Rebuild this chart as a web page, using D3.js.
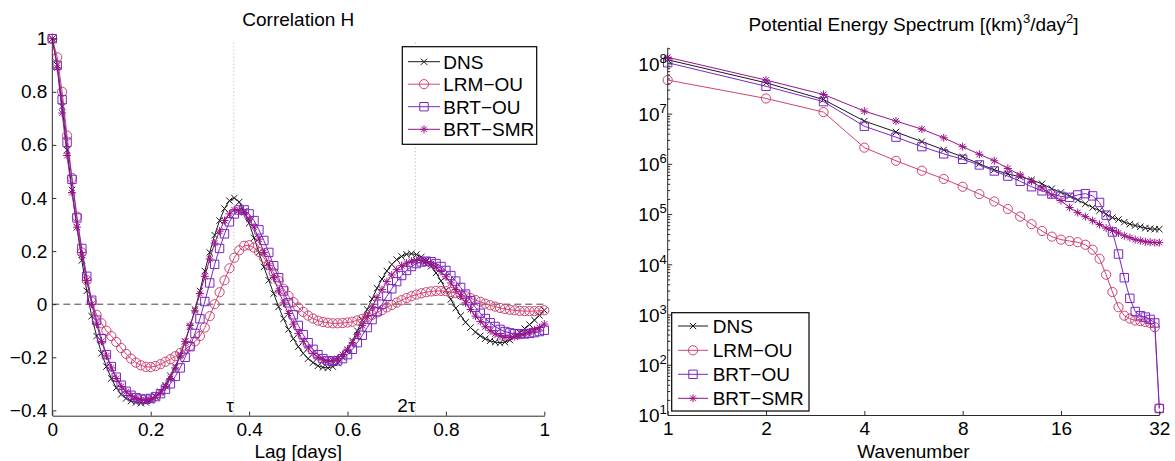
<!DOCTYPE html>
<html><head><meta charset="utf-8">
<script src="https://cdn.jsdelivr.net/npm/d3@7"></script>
<style>
html,body{margin:0;padding:0;background:#fff;}
svg text{font-family:"Liberation Sans",Arial,Helvetica,sans-serif;fill:#000;}
</style></head>
<body>
<svg id="chart" width="1175" height="461"></svg>
<script>
// ---------- DATA ----------
const seriesNames = ["DNS", "LRM\u2212OU", "BRT\u2212OU", "BRT\u2212SMR"];
const lags = [0,0.01,0.02,0.03,0.04,0.05,0.06,0.07,0.08,0.09,0.1,0.11,0.12,0.13,0.14,0.15,0.16,0.17,0.18,0.19,0.2,0.21,0.22,0.23,0.24,0.25,0.26,0.27,0.28,0.29,0.3,0.31,0.32,0.33,0.34,0.35,0.36,0.37,0.38,0.39,0.4,0.41,0.42,0.43,0.44,0.45,0.46,0.47,0.48,0.49,0.5,0.51,0.52,0.53,0.54,0.55,0.56,0.57,0.58,0.59,0.6,0.61,0.62,0.63,0.64,0.65,0.66,0.67,0.68,0.69,0.7,0.71,0.72,0.73,0.74,0.75,0.76,0.77,0.78,0.79,0.8,0.81,0.82,0.83,0.84,0.85,0.86,0.87,0.88,0.89,0.9,0.91,0.92,0.93,0.94,0.95,0.96,0.97,0.98,0.99,1];
const corrDNS = [1,0.9,0.745,0.58,0.43,0.29,0.165,0.05,-0.045,-0.12,-0.185,-0.235,-0.28,-0.315,-0.34,-0.355,-0.365,-0.37,-0.373,-0.37,-0.362,-0.348,-0.33,-0.305,-0.27,-0.235,-0.19,-0.14,-0.085,-0.02,0.05,0.125,0.195,0.26,0.315,0.36,0.39,0.4,0.385,0.35,0.305,0.25,0.195,0.14,0.09,0.04,-0.01,-0.055,-0.095,-0.13,-0.16,-0.185,-0.205,-0.22,-0.232,-0.238,-0.24,-0.235,-0.222,-0.2,-0.172,-0.138,-0.1,-0.06,-0.02,0.02,0.06,0.095,0.125,0.15,0.168,0.18,0.188,0.19,0.187,0.178,0.163,0.143,0.118,0.088,0.053,0.018,-0.015,-0.043,-0.068,-0.088,-0.105,-0.119,-0.13,-0.138,-0.143,-0.145,-0.143,-0.135,-0.122,-0.107,-0.092,-0.077,-0.06,-0.042,-0.023];
const corrLRM = [1,0.93,0.8,0.635,0.475,0.33,0.195,0.09,0.01,-0.04,-0.072,-0.1,-0.12,-0.142,-0.165,-0.187,-0.205,-0.22,-0.23,-0.236,-0.237,-0.233,-0.226,-0.217,-0.207,-0.196,-0.184,-0.171,-0.157,-0.14,-0.12,-0.088,-0.045,0,0.045,0.09,0.135,0.175,0.203,0.22,0.222,0.213,0.197,0.175,0.148,0.118,0.088,0.058,0.031,0.008,-0.012,-0.029,-0.043,-0.054,-0.062,-0.067,-0.07,-0.072,-0.072,-0.071,-0.069,-0.066,-0.061,-0.055,-0.048,-0.04,-0.031,-0.022,-0.012,-0.003,0.006,0.015,0.023,0.03,0.036,0.041,0.045,0.048,0.05,0.05,0.049,0.046,0.042,0.036,0.03,0.023,0.016,0.009,0.002,-0.004,-0.009,-0.014,-0.018,-0.021,-0.023,-0.025,-0.026,-0.026,-0.026,-0.025,-0.023];
const corrBRTOU = [1,0.9,0.77,0.61,0.47,0.325,0.21,0.105,0.015,-0.06,-0.13,-0.19,-0.235,-0.275,-0.305,-0.328,-0.343,-0.352,-0.357,-0.358,-0.355,-0.348,-0.337,-0.32,-0.3,-0.272,-0.24,-0.2,-0.16,-0.11,-0.055,0.01,0.08,0.15,0.21,0.265,0.31,0.34,0.355,0.355,0.34,0.315,0.28,0.24,0.195,0.145,0.1,0.05,0.005,-0.04,-0.08,-0.115,-0.145,-0.17,-0.19,-0.205,-0.213,-0.215,-0.213,-0.205,-0.19,-0.17,-0.145,-0.117,-0.088,-0.058,-0.028,0,0.03,0.058,0.085,0.108,0.127,0.142,0.153,0.159,0.162,0.16,0.153,0.142,0.127,0.108,0.087,0.063,0.038,0.013,-0.012,-0.034,-0.054,-0.07,-0.084,-0.095,-0.103,-0.108,-0.111,-0.112,-0.112,-0.11,-0.107,-0.103,-0.098];
const corrBRTSMR = [1,0.89,0.72,0.56,0.42,0.29,0.185,0.09,0,-0.075,-0.14,-0.195,-0.24,-0.28,-0.31,-0.33,-0.345,-0.355,-0.36,-0.362,-0.358,-0.35,-0.335,-0.31,-0.28,-0.24,-0.195,-0.14,-0.08,-0.025,0.04,0.105,0.17,0.23,0.275,0.315,0.34,0.355,0.355,0.345,0.32,0.29,0.245,0.195,0.145,0.1,0.05,0.005,-0.035,-0.075,-0.11,-0.14,-0.165,-0.185,-0.2,-0.21,-0.215,-0.213,-0.205,-0.19,-0.17,-0.145,-0.115,-0.08,-0.045,-0.01,0.025,0.055,0.085,0.11,0.13,0.145,0.155,0.162,0.165,0.165,0.16,0.152,0.14,0.123,0.103,0.08,0.055,0.03,0.005,-0.02,-0.045,-0.065,-0.085,-0.1,-0.112,-0.12,-0.125,-0.125,-0.122,-0.117,-0.112,-0.105,-0.097,-0.088,-0.075];

const wavenumbers = [1,2,3,4,5,6,7,8,9,10,11,12,13,14,15,16,17,18,19,20,21,22,23,24,25,26,27,28,29,30,31,32];
const peDNS = [1.18e8,4.1e7,1.9e7,7.1e6,4.3e6,2.77e6,1.9e6,1.38e6,1.0e6,7.6e5,6.3e5,5.5e5,4.8e5,4.0e5,3.2e5,2.7e5,2.3e5,1.9e5,1.6e5,1.35e5,1.17e5,1.0e5,8.5e4,7.8e4,6.9e4,6.3e4,5.9e4,5.6e4,5.25e4,5.1e4,5.0e4,5.0e4];
const peLRM = [4.65e7,2.0e7,1.07e7,2.1e6,1.15e6,7.3e5,5.0e5,3.5e5,2.5e5,1.78e5,1.26e5,8.9e4,6.3e4,4.6e4,3.55e4,3.1e4,2.9e4,2.75e4,2.45e4,1.95e4,1.29e4,6.2e3,2.8e3,1.4e3,950,830,760,740,710,680,560,13.5];
const peBRTOU = [1.03e8,3.5e7,1.73e7,5.6e6,3.4e6,2.2e6,1.58e6,1.23e6,9.5e5,7.2e5,5.7e5,4.5e5,3.5e5,2.9e5,2.5e5,2.25e5,2.15e5,2.4e5,2.55e5,2.3e5,1.7e5,9.5e4,4.4e4,1.6e4,5.4e3,2.1e3,1.15e3,950,890,800,680,13.5];
const peBRTSMR = [1.32e8,4.65e7,2.4e7,1.12e7,7.1e6,4.9e6,3.3e6,2.2e6,1.55e6,1.15e6,8.1e5,6.0e5,4.5e5,3.3e5,2.4e5,1.86e5,1.35e5,1.07e5,8.9e4,7.4e4,6.2e4,5.25e4,4.7e4,4.2e4,3.7e4,3.4e4,3.1e4,2.95e4,2.8e4,2.75e4,2.7e4,2.7e4];

const corrTicksX = [0,0.2,0.4,0.6,0.8,1];
const corrTicksY = [-0.4,-0.2,0,0.2,0.4,0.6,0.8,1];
const tau = 0.369;
const tauMarks = [{v: tau, label: "\u03c4"}, {v: 2*tau, label: "2\u03c4"}];
const peTicksX = [1,2,4,8,16,32];
const peTicksYExp = [1,2,3,4,5,6,7,8];

// ---------- STYLE ----------
const colors = ["#1a1a1a", "#cf4470", "#7a26c1", "#9a1388"];
const markers = ["x", "circle", "square", "star"];
const FONT = 19;

const svg = d3.select("#chart");
svg.append("rect").attr("width",1175).attr("height",461).attr("fill","#fff");

function markerPath(type){
  if(type==="x"){const s=3.2;return `M${-s},${-s}L${s},${s}M${-s},${s}L${s},${-s}`;}
  if(type==="square"){const s=4.2;return `M${-s},${-s}H${s}V${s}H${-s}Z`;}
  if(type==="star"){const s=4,d=2.9;return `M${-s},0H${s}M0,${-s}V${s}M${-d},${-d}L${d},${d}M${-d},${d}L${d},${-d}`;}
  return null;
}
function drawMarker(g, type, x, y, color){
  if(type==="circle"){
    g.append("circle").attr("cx",x).attr("cy",y).attr("r",4.6).attr("fill","none").attr("stroke",color).attr("stroke-width",1);
  } else {
    g.append("path").attr("transform",`translate(${x},${y})`).attr("d",markerPath(type)).attr("fill","none").attr("stroke",color).attr("stroke-width",1);
  }
}
function styleAxis(g){
  g.selectAll(".domain").attr("stroke","#2b2b2b").attr("stroke-width",1);
  g.selectAll(".tick line").attr("stroke","#2b2b2b");
  g.selectAll("text").attr("font-size",FONT).attr("fill","#000").attr("font-family",'"Liberation Sans",Arial,sans-serif');
}

// ---------- LEFT: Correlation H ----------
const xL = d3.scaleLinear().domain([0,1]).range([52.3,544.3]);
const yL = d3.scaleLinear().domain([-0.42,1]).range([415.7,38.7]);
const left = svg.append("g");

// tau guides
tauMarks.forEach(t=>{
  left.append("line").attr("x1",xL(t.v)).attr("x2",xL(t.v)).attr("y1",yL(1)+4).attr("y2",yL(-0.42))
    .attr("stroke","#b0b0b0").attr("stroke-width",1).attr("stroke-dasharray","1,2.5");
  left.append("text").attr("x",xL(t.v)).attr("y",411.5).attr("text-anchor","end").attr("font-size",FONT).text(t.label);
});
// zero dashed
left.append("line").attr("x1",xL(0)).attr("x2",xL(1)).attr("y1",yL(0)).attr("y2",yL(0))
  .attr("stroke","#444").attr("stroke-width",1).attr("stroke-dasharray","7,4");

const corrSeries = [corrDNS, corrLRM, corrBRTOU, corrBRTSMR];
const lineL = d3.line().x(d=>xL(d[0])).y(d=>yL(d[1]));
corrSeries.forEach((vals,i)=>{
  const pts = lags.map((l,j)=>[l, vals[j]]);
  const g = left.append("g");
  g.append("path").attr("d",lineL(pts)).attr("fill","none").attr("stroke",colors[i]).attr("stroke-width",1);
  pts.forEach(p=>drawMarker(g, markers[i], xL(p[0]), yL(p[1]), colors[i]));
});

const axLB = left.append("g").attr("transform",`translate(0,${yL(-0.42)})`)
  .call(d3.axisBottom(xL).tickValues(corrTicksX).tickFormat(d3.format("~g")).tickSizeInner(-4).tickSizeOuter(0).tickPadding(7));
styleAxis(axLB);
const axLL = left.append("g").attr("transform",`translate(${xL(0)},0)`)
  .call(d3.axisLeft(yL).tickValues(corrTicksY).tickFormat(d3.format("~g")).tickSizeInner(-4).tickSizeOuter(0).tickPadding(5));
styleAxis(axLL);
axLL.select(".domain").attr("d",`M0,${yL(-0.42)}V${yL(1)}`);

left.append("text").attr("x",(xL(0)+xL(1))/2).attr("y",26).attr("text-anchor","middle").attr("font-size",FONT).text("Correlation H");
left.append("text").attr("x",(xL(0)+xL(1))/2).attr("y",457.5).attr("text-anchor","middle").attr("font-size",FONT).text("Lag [days]");

function drawLegend(g, x0, y0, w, h, rowY, lineX0, lineX1, textX){
  g.append("rect").attr("x",x0).attr("y",y0).attr("width",w).attr("height",h).attr("fill","#fff").attr("stroke","#000").attr("stroke-width",1.2);
  seriesNames.forEach((n,i)=>{
    const y = rowY[i];
    g.append("line").attr("x1",lineX0).attr("x2",lineX1).attr("y1",y).attr("y2",y).attr("stroke",colors[i]).attr("stroke-width",1);
    drawMarker(g, markers[i], (lineX0+lineX1)/2, y, colors[i]);
    g.append("text").attr("x",textX).attr("y",y).attr("dy","0.36em").attr("font-size",FONT).text(n);
  });
}
drawLegend(left.append("g"), 402.3, 46.7, 134.4, 97.6, [61.7,84.2,106.7,129.3], 408, 440, 443.3);

// ---------- RIGHT: Potential Energy Spectrum ----------
const xR = d3.scaleLog().base(2).domain([1,32]).range([667.7,1159.3]);
const yR = d3.scaleLog().domain([10,2.05e8]).range([415,47.7]);
const right = svg.append("g");

const peSeries = [peDNS, peLRM, peBRTOU, peBRTSMR];
const lineR = d3.line().x(d=>xR(d[0])).y(d=>yR(d[1]));
peSeries.forEach((vals,i)=>{
  const pts = wavenumbers.map((k,j)=>[k, vals[j]]);
  const g = right.append("g");
  g.append("path").attr("d",lineR(pts)).attr("fill","none").attr("stroke",colors[i]).attr("stroke-width",1);
  pts.forEach(p=>drawMarker(g, markers[i], xR(p[0]), yR(p[1]), colors[i]));
});

const axRB = right.append("g").attr("transform",`translate(0,${yR(10)})`)
  .call(d3.axisBottom(xR).tickValues(peTicksX).tickFormat(d3.format("d")).tickSizeInner(-4).tickSizeOuter(0).tickPadding(7));
styleAxis(axRB);

const minorY = [];
peTicksYExp.forEach(e=>{ for(let m=2;m<=9;m++){ const v=m*Math.pow(10,e); if(v<=2.05e8) minorY.push(v);} });
const axRLminor = right.append("g").attr("transform",`translate(${xR(1)},0)`)
  .call(d3.axisLeft(yR).tickValues(minorY).tickFormat("").tickSizeInner(-2.5).tickSizeOuter(0));
styleAxis(axRLminor);
const axRL = right.append("g").attr("transform",`translate(${xR(1)},0)`)
  .call(d3.axisLeft(yR).tickValues(peTicksYExp.map(e=>Math.pow(10,e))).tickFormat("").tickSizeInner(-4.5).tickSizeOuter(0));
styleAxis(axRL);
axRL.select(".domain").attr("d",`M0,${yR(10)}V${yR(2.05e8)}`);
axRLminor.select(".domain").remove();
axRL.selectAll(".tick").each(function(d){
  const t = d3.select(this).append("text").attr("x",-1).attr("y",0).attr("dy","0.36em").attr("text-anchor","end").attr("font-size",FONT).attr("fill","#000");
  t.append("tspan").text("10");
  t.append("tspan").attr("dy","-0.62em").attr("font-size",13).text(String(Math.round(Math.log10(d))));
});

const tt = right.append("text").attr("x",(xR(1)+xR(32))/2).attr("y",31).attr("text-anchor","middle").attr("font-size",FONT);
tt.append("tspan").text("Potential Energy Spectrum [(km)");
tt.append("tspan").attr("dy",-8).attr("font-size",13).text("3");
tt.append("tspan").attr("dy",8).text("/day");
tt.append("tspan").attr("dy",-8).attr("font-size",13).text("2");
tt.append("tspan").attr("dy",8).text("]");
right.append("text").attr("x",(xR(1)+xR(32))/2).attr("y",457.5).attr("text-anchor","middle").attr("font-size",FONT).text("Wavenumber");

drawLegend(right.append("g"), 671.7, 312.7, 137.3, 98.3, [326,350.3,374.3,398.3], 678, 708, 712.7);
</script>
</body></html>
